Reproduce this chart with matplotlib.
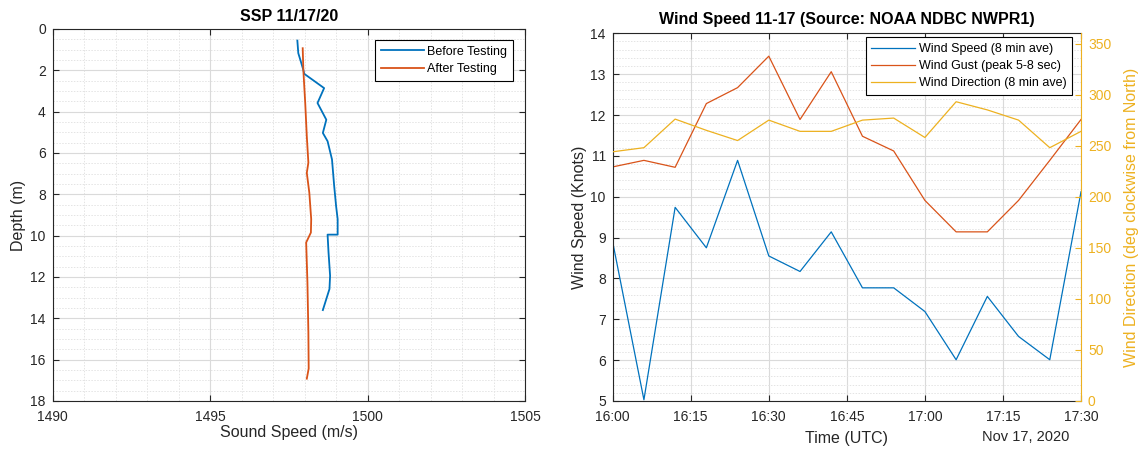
import matplotlib
matplotlib.use("Agg")
import matplotlib.pyplot as plt
import matplotlib.dates as mdates
from matplotlib.ticker import MultipleLocator
import pandas as pd

plt.rcParams["font.family"] = ["Liberation Sans", "DejaVu Sans"]

# ---- Sound speed profiles (depth in m, speed in m/s) ----
before_speed = [1497.77, 1497.80, 1497.88, 1497.96, 1497.99, 1498.62, 1498.41,
                1498.69, 1498.58, 1498.73, 1498.87, 1498.94, 1499.00, 1499.05,
                1499.05, 1498.73, 1498.76, 1498.81, 1498.79, 1498.58]
before_depth = [0.56, 1.17, 1.57, 1.98, 2.17, 2.86, 3.58,
                4.39, 5.03, 5.43, 6.31, 7.60, 8.56, 9.20,
                9.95, 9.95, 10.81, 11.94, 12.58, 13.60]
after_speed = [1497.94, 1497.96, 1498.02, 1498.07, 1498.12, 1498.07, 1498.15,
               1498.21, 1498.20, 1498.05, 1498.09, 1498.12, 1498.13, 1498.07]
after_depth = [0.93, 1.98, 3.58, 5.19, 6.47, 6.96, 7.92,
               9.20, 9.85, 10.33, 12.26, 14.67, 16.43, 16.92]

# ---- NOAA NDBC NWPR1 wind record, 17 Nov 2020 ----
times = ["16:00", "16:06", "16:12", "16:18", "16:24", "16:30", "16:36", "16:42",
         "16:48", "16:54", "17:00", "17:06", "17:12", "17:18", "17:24", "17:30"]
wind_speed = [8.89, 5.03, 9.74, 8.75, 10.89, 8.55, 8.17, 9.14,
              7.77, 7.77, 7.19, 6.01, 7.56, 6.58, 6.01, 10.12]
wind_gust = [10.73, 10.89, 10.72, 12.28, 12.67, 13.44, 11.89, 13.06,
             11.48, 11.12, 9.91, 9.14, 9.14, 9.91, 10.89, 11.89]
wind_dir = [244, 248, 276, 265, 255, 275, 264, 264,
            275, 277, 258, 293, 285, 275, 248, 264]

BLUE = "#0072BD"
ORANGE = "#D95319"
YELLOW = "#EDB120"
DARK = "#262626"

W, H = 1139, 450
fig = plt.figure(figsize=(W / 100, H / 100), dpi=100)


def box(l, t, r, b):
    return [l / W, 1 - b / H, (r - l) / W, (b - t) / H]


def style_axes(ax):
    for s in ax.spines.values():
        s.set_color(DARK)
        s.set_linewidth(0.8)
    ax.tick_params(which="major", direction="in", length=4, width=0.8,
                   colors=DARK, labelsize=10, top=True, right=True, pad=6.5)
    ax.tick_params(which="minor", length=0)
    ax.grid(which="major", color="#dadada", linewidth=0.8, linestyle="-")
    ax.grid(which="minor", color="#e4e4e4", linewidth=0.7, linestyle=(0, (1.5, 1.5)))
    ax.set_axisbelow(True)


# ---------------- Left: sound speed profile ----------------
ax1 = fig.add_axes(box(52.7, 29, 525, 401))
ax1.plot(before_speed, before_depth, color=BLUE, lw=1.3, label="Before Testing")
ax1.plot(after_speed, after_depth, color=ORANGE, lw=1.3, label="After Testing")
ax1.set_xlim(1490, 1505)
ax1.set_ylim(18, 0)
ax1.set_xticks([1490, 1495, 1500, 1505])
ax1.set_yticks(range(0, 19, 2))
ax1.xaxis.set_minor_locator(MultipleLocator(1))
ax1.yaxis.set_minor_locator(MultipleLocator(0.5))
style_axes(ax1)
ax1.tick_params(axis="y", pad=5)
ax1.set_title("SSP 11/17/20", fontsize=11.5, fontweight="bold", color="black", pad=6)
ax1.set_xlabel("Sound Speed (m/s)", fontsize=11.5, color=DARK, labelpad=1)
ax1.set_ylabel("Depth (m)", fontsize=11.5, color=DARK, labelpad=3)
leg1 = ax1.legend(loc="upper right", bbox_to_anchor=(1 - 12 / 472, 1 - 11 / 372),
                  borderaxespad=0, fontsize=9, fancybox=False, framealpha=1,
                  edgecolor="black", handlelength=3.4, handletextpad=0.3,
                  labelspacing=0.45, borderpad=0.45)
leg1.get_frame().set_linewidth(0.8)

# ---------------- Right: wind record ----------------
t = pd.to_datetime(["2020-11-17 " + s for s in times])
ax2 = fig.add_axes(box(612.7, 33.3, 1081, 401))
l1, = ax2.plot(t, wind_speed, color=BLUE, lw=0.9, label="Wind Speed (8 min ave)")
l2, = ax2.plot(t, wind_gust, color=ORANGE, lw=0.9, label="Wind Gust (peak 5-8 sec)")
ax2.set_ylim(5, 14)
ax2.set_yticks(range(5, 15))
ax2.yaxis.set_minor_locator(MultipleLocator(0.2))
ax2.set_xlim(t[0], t[-1])
ax2.xaxis.set_major_locator(mdates.MinuteLocator(byminute=[0, 15, 30, 45]))
ax2.xaxis.set_major_formatter(mdates.DateFormatter("%H:%M"))
style_axes(ax2)
ax2.tick_params(axis="y", pad=5)
ax2.grid(which="minor", axis="x", visible=False)
ax2.tick_params(right=False)
ax2.spines["right"].set_visible(False)
ax2.set_title("Wind Speed 11-17 (Source: NOAA NDBC NWPR1)", fontsize=11.5,
              fontweight="bold", color="black", pad=7)
ax2.set_xlabel("Time (UTC)", fontsize=11.5, color=DARK, labelpad=5)
ax2.set_ylabel("Wind Speed (Knots)", fontsize=11.5, color=DARK, labelpad=2)
ax2.text(1 - 12 / 468, -36 / 368, "Nov 17, 2020", transform=ax2.transAxes,
         ha="right", va="center", fontsize=10.5, color=DARK)

ax3 = ax2.twinx()
l3, = ax3.plot(t, wind_dir, color=YELLOW, lw=0.9, label="Wind Direction (8 min ave)")
ax3.set_ylim(0, 360)
ax3.set_yticks(range(0, 351, 50))
for side in ("left", "top", "bottom"):
    ax3.spines[side].set_visible(False)
ax3.spines["right"].set_color(YELLOW)
ax3.spines["right"].set_linewidth(0.8)
ax3.tick_params(axis="y", direction="in", length=4, width=0.8, colors=YELLOW,
                labelsize=10, pad=5)
ax3.set_ylabel("Wind Direction (deg clockwise from North)", fontsize=11.5,
               color=YELLOW, labelpad=9)
leg2 = ax3.legend(handles=[l1, l2, l3], loc="upper right",
                  bbox_to_anchor=(1 - 9 / 468, 1 - 4 / 368), borderaxespad=0,
                  fontsize=9, fancybox=False, framealpha=1, edgecolor="black",
                  handlelength=3.5, handletextpad=0.3, labelspacing=0.42,
                  borderpad=0.45)
leg2.get_frame().set_linewidth(0.8)

fig.savefig("out.png", dpi=100)
